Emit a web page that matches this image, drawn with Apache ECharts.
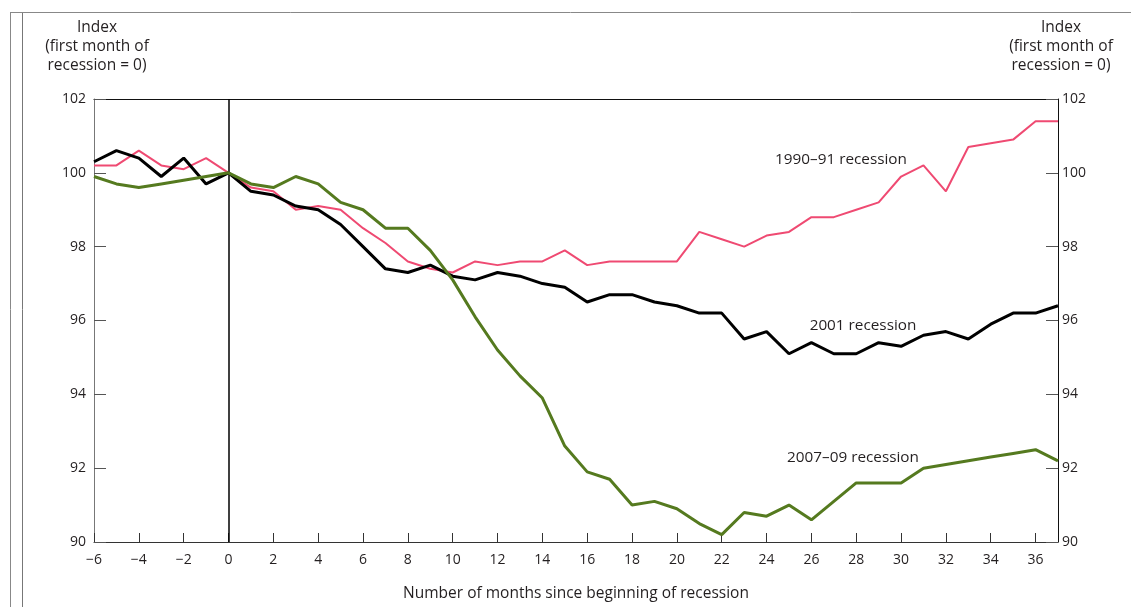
<!DOCTYPE html>
<html>
<head>
<meta charset="utf-8">
<script src="https://cdn.jsdelivr.net/npm/echarts@6/dist/echarts.min.js"></script>
<style>
html,body{margin:0;padding:0;background:#fff;}
#chart{width:1131px;height:607px;}
</style>
</head>
<body>
<div id="chart"></div>
<script>
const months = [-6,-5,-4,-3,-2,-1,0,1,2,3,4,5,6,7,8,9,10,11,12,13,14,15,16,17,18,19,20,21,22,23,24,25,26,27,28,29,30,31,32,33,34,35,36,37];
const rec1990 = [100.2,100.2,100.6,100.2,100.1,100.4,100.0,99.6,99.5,99.0,99.1,99.0,98.5,98.1,97.6,97.4,97.3,97.6,97.5,97.6,97.6,97.9,97.5,97.6,97.6,97.6,97.6,98.4,98.2,98.0,98.3,98.4,98.8,98.8,99.0,99.2,99.9,100.2,99.5,100.7,100.8,100.9,101.4,101.4];
const rec2001 = [100.3,100.6,100.4,99.9,100.4,99.7,100.0,99.5,99.4,99.1,99.0,98.6,98.0,97.4,97.3,97.5,97.2,97.1,97.3,97.2,97.0,96.9,96.5,96.7,96.7,96.5,96.4,96.2,96.2,95.5,95.7,95.1,95.4,95.1,95.1,95.4,95.3,95.6,95.7,95.5,95.9,96.2,96.2,96.4];
const rec2007 = [99.9,99.7,99.6,99.7,99.8,99.9,100.0,99.7,99.6,99.9,99.7,99.2,99.0,98.5,98.5,97.9,97.1,96.1,95.2,94.5,93.9,92.6,91.9,91.7,91.0,91.1,90.9,90.5,90.2,90.8,90.7,91.0,90.6,91.1,91.6,91.6,91.6,92.0,92.1,92.2,92.3,92.4,92.5,92.2];
const seriesNames = ['1990–91 recession','2001 recession','2007–09 recession'];
const yTitle = ['Index','(first month of','recession = 0)'];
const xTitle = 'Number of months since beginning of recession';

const FONT = "'Open Sans', 'Noto Sans', sans-serif";
const TXT = '#231f20';
function pairs(vals){ return months.map((m,i)=>[m, vals[i]]); }
function minus(v){ return String(v).replace('-', '\u2212'); }

const chart = echarts.init(document.getElementById('chart'), null, {renderer:'canvas'});
const yAxisBase = {
  type:'value', min:90, max:102, interval:2,
  splitLine:{show:false},
  axisTick:{show:true, inside:true, length:12, lineStyle:{color:'#555', width:1}},
  axisLabel:{fontFamily:FONT, fontSize:14, color:TXT}
};
chart.setOption({
  animation:false,
  grid:{left:94, right:73, top:99, bottom:64, containLabel:false},
  xAxis:[{
    type:'value', min:-6, max:37, interval:2,
    splitLine:{show:false},
    axisLine:{show:true, onZero:false, lineStyle:{color:'#333', width:1}},
    axisTick:{show:true, inside:true, length:9, lineStyle:{color:'#333', width:1}},
    axisLabel:{fontFamily:FONT, fontSize:14, color:TXT, margin:11, showMaxLabel:false, formatter:minus},
    name:xTitle, nameLocation:'middle', nameGap:44,
    nameTextStyle:{fontFamily:FONT, fontSize:15.5, color:TXT}
  },{
    type:'value', min:-6, max:37, position:'top',
    splitLine:{show:false},
    axisLine:{show:true, onZero:false, lineStyle:{color:'#111', width:1}},
    axisTick:{show:false}, axisLabel:{show:false}
  }],
  yAxis:[
    Object.assign({}, yAxisBase, {position:'left',
      axisLine:{show:true, onZero:false, lineStyle:{color:'#777', width:1}},
      axisLabel:Object.assign({}, yAxisBase.axisLabel, {margin:8})}),
    Object.assign({}, yAxisBase, {position:'right',
      axisLine:{show:true, onZero:false, lineStyle:{color:'#111', width:1}},
      axisLabel:Object.assign({}, yAxisBase.axisLabel, {margin:4})})
  ],
  series:[
    {name:seriesNames[0], type:'line', data:pairs(rec1990), showSymbol:false, symbol:'none',
     lineStyle:{color:'#ef4a72', width:2}, z:3,
     markLine:{silent:true, symbol:'none', label:{show:false},
       lineStyle:{color:'#000', width:1.5, type:'solid'}, data:[{xAxis:0}]}},
    {name:seriesNames[1], type:'line', data:pairs(rec2001), showSymbol:false, symbol:'none',
     lineStyle:{color:'#000', width:3}, z:4},
    {name:seriesNames[2], type:'line', data:pairs(rec2007), showSymbol:false, symbol:'none',
     lineStyle:{color:'#557a1f', width:3}, z:5}
  ],
  graphic:[
    {type:'line', shape:{x1:10.5,y1:12,x2:10.5,y2:607}, style:{stroke:'#888', lineWidth:1}},
    {type:'line', shape:{x1:22.5,y1:12,x2:22.5,y2:607}, style:{stroke:'#777', lineWidth:1}},
    {type:'line', shape:{x1:10,y1:12.5,x2:1131,y2:12.5}, style:{stroke:'#888', lineWidth:1}},
    {type:'text', x:97, y:18, style:{text:yTitle.join('\n'), font:"15.5px 'Open Sans', 'Noto Sans', sans-serif", fill:TXT, align:'center', lineHeight:19}},
    {type:'text', x:1061, y:18, style:{text:yTitle.join('\n'), font:"15.5px 'Open Sans', 'Noto Sans', sans-serif", fill:TXT, align:'center', lineHeight:19}},
    {type:'text', x:841, y:160, style:{text:seriesNames[0], font:"15.3px 'Open Sans', 'Noto Sans', sans-serif", fill:TXT, align:'center', verticalAlign:'middle'}},
    {type:'text', x:863, y:326, style:{text:seriesNames[1], font:"15.3px 'Open Sans', 'Noto Sans', sans-serif", fill:TXT, align:'center', verticalAlign:'middle'}},
    {type:'text', x:853, y:458, style:{text:seriesNames[2], font:"15.3px 'Open Sans', 'Noto Sans', sans-serif", fill:TXT, align:'center', verticalAlign:'middle'}}
  ]
});
</script>
</body>
</html>
